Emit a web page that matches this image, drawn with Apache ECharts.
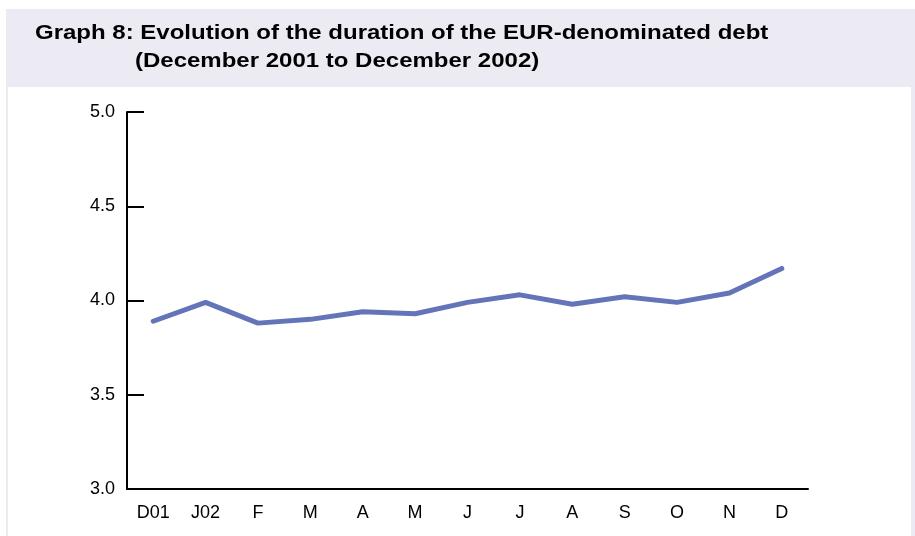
<!DOCTYPE html>
<html>
<head>
<meta charset="utf-8">
<script src="https://cdn.jsdelivr.net/npm/echarts@6/dist/echarts.min.js"></script>
<style>
  html, body { margin: 0; padding: 0; background: #fff; }
  #chart { width: 915px; height: 536px; }
</style>
</head>
<body>
<div id="chart"></div>
<script>
// categories (months, Dec 2001 .. Dec 2002)
const months = ['D01', 'J02', 'F', 'M', 'A', 'M', 'J', 'J', 'A', 'S', 'O', 'N', 'D'];
// duration in years
const duration = [3.89, 3.99, 3.88, 3.90, 3.94, 3.93, 3.99, 4.03, 3.98, 4.02, 3.99, 4.04, 4.17];
const yTicks = [3.0, 3.5, 4.0, 4.5, 5.0];

const titleLine1 = 'Graph 8: Evolution of the duration of the EUR-denominated debt';
const titleLine2 = '(December 2001 to December 2002)';

const titleFont = { fontFamily: 'Liberation Sans, Arial, sans-serif', fontSize: 20, fontWeight: 'bold', fill: '#000' };
const labelFont = 'Liberation Sans, Arial, sans-serif';

const chart = echarts.init(document.getElementById('chart'));

const option = {
  animation: false,
  graphic: [
    // lavender frame
    {
      type: 'rect',
      shape: { x: 6, y: 9, width: 909, height: 527 },
      style: { fill: '#ECEBF4' },
      z: -10
    },
    // white plot panel
    {
      type: 'rect',
      shape: { x: 8, y: 87, width: 903, height: 449 },
      style: { fill: '#FFFFFF' },
      z: -9
    },
    // title text is a bit stretched horizontally in the original
    {
      type: 'text',
      x: 35,
      y: 33,
      scaleX: 1.2,
      style: Object.assign({ text: titleLine1, verticalAlign: 'middle' }, titleFont)
    },
    {
      type: 'text',
      x: 135,
      y: 61,
      scaleX: 1.2,
      style: Object.assign({ text: titleLine2, verticalAlign: 'middle' }, titleFont)
    }
  ],
  grid: {
    left: 127,
    right: 107,
    top: 112,
    bottom: 47,
    containLabel: false
  },
  xAxis: {
    type: 'category',
    data: months,
    boundaryGap: true,
    axisLine: { lineStyle: { color: '#000', width: 2 } },
    axisTick: { alignWithLabel: true, inside: true, length: 8, lineStyle: { color: '#000', width: 2 } },
    axisLabel: {
      margin: 15,
      fontFamily: labelFont,
      fontSize: 18,
      color: '#000'
    },
    splitLine: { show: false }
  },
  yAxis: {
    type: 'value',
    min: yTicks[0],
    max: yTicks[yTicks.length - 1],
    interval: 0.5,
    axisLine: { show: true, lineStyle: { color: '#000', width: 2 } },
    axisTick: { show: true, inside: true, length: 17, lineStyle: { color: '#000', width: 2 } },
    axisLabel: {
      margin: 12,
      fontFamily: labelFont,
      fontSize: 18,
      color: '#000',
      formatter: (v) => v.toFixed(1)
    },
    splitLine: { show: false }
  },
  series: [
    {
      type: 'line',
      data: duration,
      symbol: 'none',
      lineStyle: { color: '#6474B9', width: 5, cap: 'round', join: 'round' }
    }
  ]
};

chart.setOption(option);
</script>
</body>
</html>
